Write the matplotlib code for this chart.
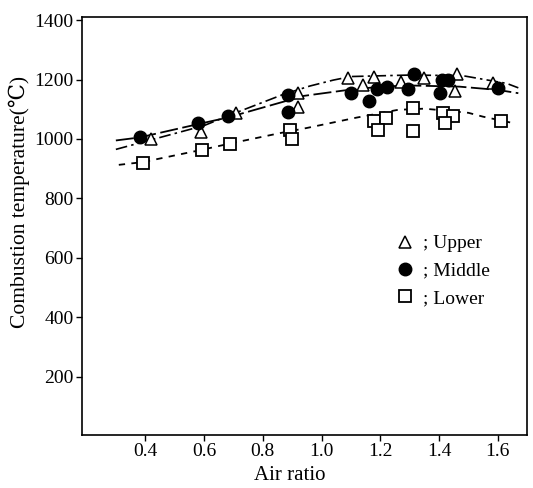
import numpy as np
import matplotlib
matplotlib.use("Agg")
import matplotlib.pyplot as plt

plt.rcParams['font.family'] = ['Liberation Serif', 'DejaVu Serif']

# measured points, combustion temperature vs air ratio
ratio_upper = [0.42, 0.59, 0.71, 0.92, 0.92, 1.09, 1.14, 1.18, 1.27, 1.35, 1.46, 1.455, 1.585]
temp_upper = [1000, 1025, 1088, 1155, 1108, 1205, 1182, 1208, 1192, 1205, 1218, 1160, 1188]

ratio_middle = [0.383, 0.581, 0.683, 0.887, 0.887, 1.10, 1.163, 1.19, 1.224, 1.296, 1.316, 1.41, 1.432, 1.405, 1.60]
temp_middle = [1007, 1054, 1078, 1148, 1091, 1155, 1128, 1168, 1175, 1168, 1218, 1198, 1198, 1155, 1170]

ratio_lower = [0.393, 0.594, 0.69, 0.894, 0.90, 1.18, 1.218, 1.194, 1.313, 1.313, 1.412, 1.446, 1.422, 1.61]
temp_lower = [920, 964, 984, 1031, 1001, 1061, 1071, 1031, 1105, 1027, 1088, 1078, 1054, 1061]

# hand-drawn trend curves
curve_upper_x = [0.30, 0.42, 0.60, 0.70, 0.87, 0.96, 1.04, 1.10, 1.30, 1.48, 1.63, 1.67]
curve_upper_y = [965, 997, 1045, 1085, 1150, 1178, 1198, 1210, 1215, 1213, 1187, 1172]

curve_middle_x = [0.30, 0.38, 0.58, 0.68, 0.88, 0.94, 1.075, 1.20, 1.30, 1.47, 1.60, 1.67]
curve_middle_y = [995, 1005, 1050, 1072, 1128, 1145, 1163, 1176, 1180, 1176, 1165, 1154]

curve_lower_x = [0.31, 0.39, 0.59, 0.69, 0.86, 0.95, 1.12, 1.26, 1.35, 1.50, 1.55, 1.65]
curve_lower_y = [913, 922, 963, 985, 1020, 1037, 1072, 1098, 1102, 1088, 1075, 1054]

x_ticks = [0.4, 0.6, 0.8, 1.0, 1.2, 1.4, 1.6]
y_ticks = [200, 400, 600, 800, 1000, 1200, 1400]

fig = plt.figure(figsize=(5.33, 4.88), dpi=100)
ax = fig.add_axes([0.154, 0.109, 0.835, 0.856])

ax.plot(curve_upper_x, curve_upper_y, color='black', lw=1.2, dashes=(7, 2.5, 1.5, 2.5))
ax.plot(curve_middle_x, curve_middle_y, color='black', lw=1.3, dashes=(10, 2.5))
ax.plot(curve_lower_x, curve_lower_y, color='black', lw=1.3, dashes=(3.5, 3.5))

h_up, = ax.plot(ratio_upper, temp_upper, ls='none', marker='^', ms=8.5,
                mfc='white', mec='black', mew=1.1)
h_mid, = ax.plot(ratio_middle, temp_middle, ls='none', marker='o', ms=9,
                 mfc='black', mec='black')
h_low, = ax.plot(ratio_lower, temp_lower, ls='none', marker='s', ms=9,
                 mfc='white', mec='black', mew=1.3)

ax.legend([h_up, h_mid, h_low], ['; Upper', '; Middle', '; Lower'],
          loc='upper left', bbox_to_anchor=(0.709, 0.479), frameon=False,
          fontsize=14, handlelength=0.8, handletextpad=0.5,
          labelspacing=0.5, borderpad=0, borderaxespad=0)

ax.set_xlim(0.185, 1.70)
ax.set_ylim(5, 1410)
ax.set_xticks(x_ticks)
ax.set_xticklabels([f"{v:.1f}" for v in x_ticks])
ax.set_yticks(y_ticks)
ax.tick_params(direction='out', length=4, width=1, labelsize=14, pad=2)

for s in ax.spines.values():
    s.set_linewidth(1.2)

ax.set_xlabel("Air ratio", fontsize=15)
ax.xaxis.set_label_coords(0.467, -0.075)
ax.set_ylabel("Combustion temperature(℃)", fontsize=15.5)
ax.yaxis.set_label_coords(-0.118, 0.557)

fig.savefig("out.png", dpi=100)
